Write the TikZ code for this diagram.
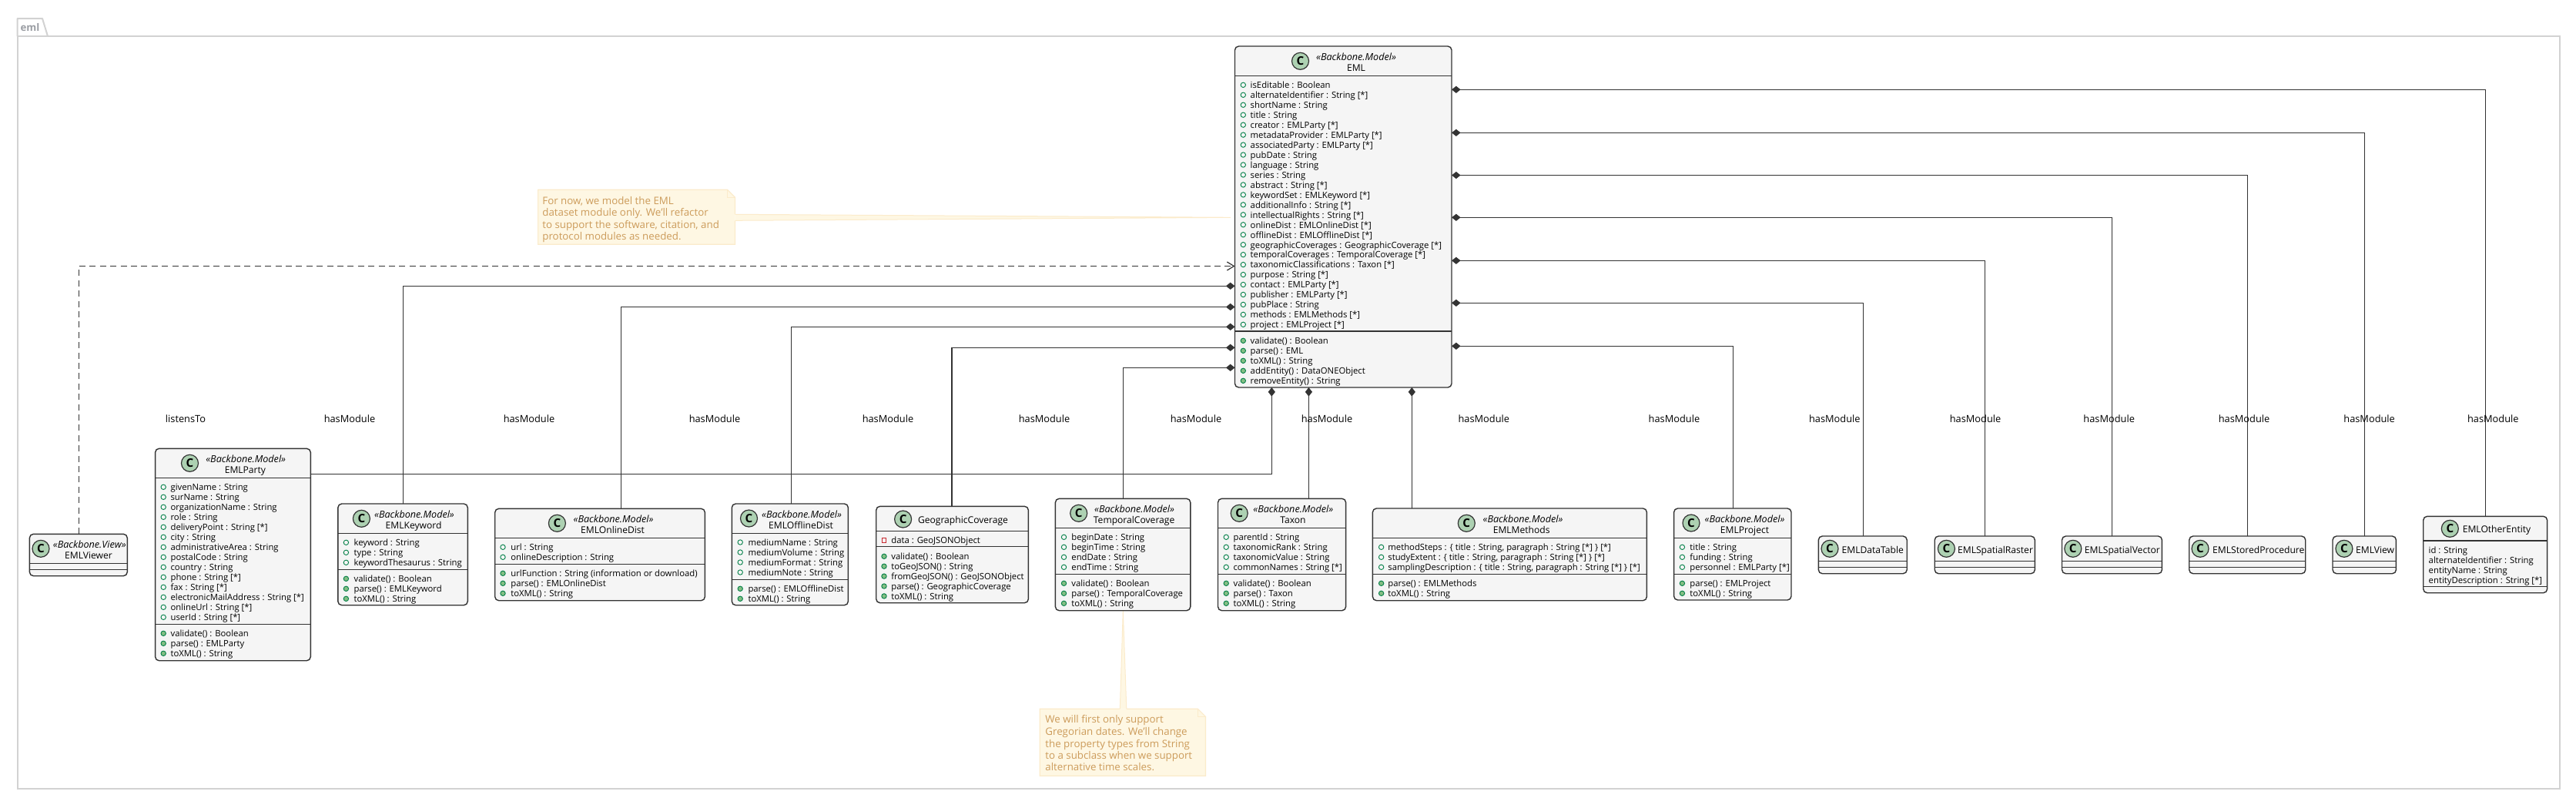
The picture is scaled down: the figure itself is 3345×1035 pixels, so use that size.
\documentclass[tikz,border=0pt]{standalone}
\usepackage{fontspec}
\setmainfont{Open Sans}
\usetikzlibrary{arrows.meta,calc}
\definecolor{boxfill}{HTML}{F5F5F5}
\definecolor{boxline}{HTML}{333333}
\definecolor{iconfill}{HTML}{ADD1B2}
\definecolor{pubgreen}{HTML}{038048}
\definecolor{methgreen}{HTML}{84BE84}
\definecolor{privred}{HTML}{C82930}
\definecolor{notefill}{HTML}{FEF7E3}
\definecolor{noteline}{HTML}{FBEBCB}
\definecolor{notetext}{HTML}{CC9B5A}
\definecolor{pkgline}{HTML}{D2D2D2}
\definecolor{pkgtext}{HTML}{9A9DA3}
\newcommand{\rowfont}{\fontsize{5.65}{6.5}\selectfont}
\newcommand{\namefont}{\fontsize{6.05}{7}\selectfont}
\newcommand{\stereofont}{\fontsize{6.3}{7}\selectfont}
\tikzset{
  x=0.5pt,y=-0.5pt,
  classbox/.style={draw=boxline,fill=boxfill,line width=0.7pt,rounded corners=2.5pt,inner sep=0pt,outer sep=0pt},
  sepline/.style={draw=boxline,line width=0.65pt},
  cicon/.style={circle,draw=boxline,fill=iconfill,line width=0.6pt,minimum size=11pt,inner sep=0pt,font=\bfseries\fontsize{7.6}{8}\selectfont},
  rowtext/.style={anchor=mid west,inner sep=0pt,font=\rowfont},
  stereo/.style={anchor=mid,inner sep=0pt,font=\itshape\stereofont},
  nametext/.style={anchor=mid,inner sep=0pt,font=\namefont},
  linktext/.style={anchor=mid,inner sep=0pt,font=\fontsize{6.4}{7}\selectfont},
  pubdot/.style={circle,draw=pubgreen,line width=0.45pt,minimum size=3.2pt,inner sep=0pt},
  methdot/.style={circle,draw=pubgreen,fill=methgreen,line width=0.45pt,minimum size=3.2pt,inner sep=0pt},
  privsq/.style={rectangle,draw=privred,line width=0.45pt,minimum size=2.9pt,inner sep=0pt},
  composed/.style={draw=boxline,line width=0.65pt,{Diamond[length=5.8pt,width=4.6pt,fill=boxline]}-},
  depend/.style={draw=boxline,line width=0.6pt,dash pattern=on 4pt off 2.7pt,-{Straight Barb[length=4.5pt,width=5.5pt]}},
  notelabel/.style={anchor=mid west,inner sep=0pt,text=notetext,font=\fontsize{6.65}{7.5}\selectfont},
}
% name, x1,y1,x2,y2, circle x, circle y, sep1, sep2
\newcommand{\umlbox}[9]{%
  \pgfmathsetmacro{\bw}{(#4-#2)*0.5}\pgfmathsetmacro{\bh}{(#5-#3)*0.5}%
  \node[classbox,minimum width=\bw pt,minimum height=\bh pt] (#1) at ({(#2+#4)/2},{(#3+#5)/2}) {};
  \draw[sepline] (#2,#8) -- (#4,#8);
  \draw[sepline] (#2,#9) -- (#4,#9);
  \node[cicon] (#1-icon) at (#6,#7) {C};
}
% prefix, style, icon x, text x, y first, dy, items
\newcommand{\umlrows}[7]{%
  \foreach \rowitem [count=\ri from 0] in {#7} {
    \pgfmathsetmacro{\ry}{#5+\ri*#6}
    \node[#2] (#1-i\ri) at (#3,\ry+1) {};
    \node[rowtext] (#1-t\ri) at (#4,\ry) {\rowitem};
  }
}
% prefix, text x, y first, dy, items
\newcommand{\umlplain}[5]{%
  \foreach \rowitem [count=\ri from 0] in {#5} {
    \pgfmathsetmacro{\ry}{#3+\ri*#4}
    \node[rowtext] (#1-t\ri) at (#2,\ry) {\rowitem};
  }
}
\newcommand{\stereoname}[6]{% prefix, stereotype, x, y, name, x
  \node[stereo] (#1-st) at (#3,#4) {«#2»};
  \pgfmathsetmacro{\ny}{#4+14}
  \node[nametext] (#1-nm) at (#6,\ny) {#5};
}
\begin{document}
\begin{tikzpicture}
\useasboundingbox (0,0) rectangle (3345,1035);
% package
\draw[pkgline,line width=1pt,line join=round] (22.5,47) -- (22.5,24) -- (55,24) -- (62,47);
\node[draw=pkgline,line width=1pt,inner sep=0pt,outer sep=0pt,minimum width=1650.9pt,minimum height=488.5pt] (pkg) at ({(22.5+3324.3)/2},{(47+1024)/2}) {};
\node[anchor=mid,inner sep=0pt,text=pkgtext,font=\bfseries\fontsize{6.6}{8}\selectfont] (pkglabel) at (39,35) {eml};

% notes (wedges first)
\coordinate (n1tipa) at (954.5,278.3);
\coordinate (n1tipb) at (954.5,286.3);
\coordinate (n1apex) at (1598,282.3);
\coordinate (n2tipa) at (1454.3,920.3);
\coordinate (n2tipb) at (1462.8,920.3);
\coordinate (n2apex) at (1458.3,793);
\fill[notefill] (n1tipa) -- (n1apex) -- (n1tipb) -- cycle;
\draw[noteline,line width=0.5pt] (n1tipa) -- (n1apex) -- (n1tipb);
\fill[notefill] (n2tipa) -- (n2apex) -- (n2tipb) -- cycle;
\draw[noteline,line width=0.5pt] (n2tipa) -- (n2apex) -- (n2tipb);
\fill[notefill] (698.6,246.3) -- (944.5,246.3) -- (954.5,256.3) -- (954.5,317.3) -- (698.6,317.3) -- cycle;
\draw[noteline,line width=0.6pt] (n1tipa) -- (954.5,256.3) -- (944.5,246.3) -- (698.6,246.3) -- (698.6,317.3) -- (954.5,317.3) -- (n1tipb);
\draw[noteline,line width=0.6pt] (944.5,246.3) -- (944.5,256.3) -- (954.5,256.3);
\fill[notefill] (1350.3,920.3) -- (1555.4,920.3) -- (1565.4,930.3) -- (1565.4,1007.3) -- (1350.3,1007.3) -- cycle;
\draw[noteline,line width=0.6pt] (n2tipa) -- (1350.3,920.3) -- (1350.3,1007.3) -- (1565.4,1007.3) -- (1565.4,930.3) -- (1555.4,920.3) -- (n2tipb);
\draw[noteline,line width=0.6pt] (1555.4,920.3) -- (1555.4,930.3) -- (1565.4,930.3);
\node[notelabel] (n1l1) at (704,259.7) {For now, we model the EML};
\node[notelabel] (n1l2) at (704,274.7) {dataset module only. We'll refactor};
\node[notelabel] (n1l3) at (704,290.7) {to support the software, citation, and};
\node[notelabel] (n1l4) at (704,305.7) {protocol modules as needed.};
\node[notelabel] (n2l1) at (1357,933.3) {We will first only support};
\node[notelabel] (n2l2) at (1357,948.7) {Gregorian dates. We'll change};
\node[notelabel] (n2l3) at (1357,964.7) {the property types from String};
\node[notelabel] (n2l4) at (1357,979.7) {to a subclass when we support};
\node[notelabel] (n2l5) at (1357,994.7) {alternative time scales.};

% boxes
\umlbox{eml}{1603.5}{60}{1885}{503}{1688.5}{79.3}{98.5}{430}
\stereoname{eml}{Backbone.Model}{1761}{72.7}{EML}{1761}
\umlrows{emlp}{pubdot}{1614.3}{1623.3}{109.3}{12.96}{isEditable : Boolean,alternateIdentifier : String [*],shortName : String,title : String,creator : EMLParty [*],metadataProvider : EMLParty [*],associatedParty  : EMLParty [*],pubDate : String,language : String,series : String,abstract : String [*],keywordSet : EMLKeyword [*],additionalInfo : String [*],intellectualRights : String [*],onlineDist : EMLOnlineDist [*],offlineDist : EMLOfflineDist [*],geographicCoverages : GeographicCoverage [*],temporalCoverages : TemporalCoverage [*],taxonomicClassifications : Taxon [*],purpose : String [*],contact : EMLParty [*],publisher : EMLParty [*],pubPlace : String,methods : EMLMethods [*],project : EMLProject [*]}
\umlrows{emlm}{methdot}{1614.3}{1623.3}{441.3}{13}{validate() : Boolean,parse()  : EML,toXML() : String,addEntity() : DataONEObject,removeEntity() : String}

\umlbox{viewer}{38.4}{693.3}{165.3}{747.7}{53}{712.3}{731.7}{739.7}
\stereoname{viewer}{Backbone.View}{116.3}{706}{EMLViewer}{115}

\umlbox{party}{201.6}{582.3}{403.3}{857.7}{246.5}{601.3}{620.3}{810.3}
\stereoname{party}{Backbone.Model}{319.2}{595}{EMLParty}{318.4}
\umlrows{partyp}{pubdot}{212.2}{221.2}{631.3}{13}{givenName : String,surName : String,organizationName : String,role : String,deliveryPoint : String [*],city : String,administrativeArea : String,postalCode : String,country : String,phone : String [*],fax : String [*],electronicMailAddress : String [*],onlineUrl : String [*],userId : String [*]}
\umlrows{partym}{methdot}{212.2}{221.2}{821.3}{13}{validate() : Boolean,parse()  : EMLParty,toXML() : String}

\umlbox{keyword}{438.8}{654}{607.3}{785.7}{469.4}{673.3}{692.3}{739.3}
\stereoname{keyword}{Backbone.Model}{538}{667}{EMLKeyword}{537.1}
\umlrows{keywordp}{pubdot}{449.4}{459.2}{703.3}{13}{keyword : String,type : String,keywordThesaurus : String}
\umlrows{keywordm}{methdot}{449.4}{459.2}{750.3}{13}{validate() : Boolean,parse()  : EMLKeyword,toXML() : String}

\umlbox{online}{642.7}{660.3}{915.4}{779.7}{723.4}{679.3}{698.7}{732.3}
\stereoname{online}{Backbone.Model}{796.5}{672.7}{EMLOnlineDist}{795.6}
\umlrows{onlinep}{pubdot}{653}{663}{709.3}{13}{url : String,onlineDescription : String}
\umlrows{onlinem}{methdot}{653}{663}{743.3}{13}{urlFunction : String (information or download),parse() : EMLOnlineDist,toXML() : String}

\umlbox{offline}{950.3}{654}{1101.4}{785.7}{972.5}{673}{692.3}{752.3}
\stereoname{offline}{Backbone.Model}{1041}{667.3}{EMLOfflineDist}{1040}
\umlrows{offlinep}{pubdot}{961.2}{971.1}{703}{13}{mediumName : String,mediumVolume : String,mediumFormat : String,mediumNote : String}
\umlrows{offlinem}{methdot}{961.2}{971.1}{763.3}{13}{parse() : EMLOfflineDist,toXML() : String}

\umlbox{geo}{1137.7}{657.3}{1335.4}{782.7}{1172.6}{674}{689.3}{709.3}
\node[nametext] (geo-nm) at (1250.5,673.7) {GeographicCoverage};
\umlrows{geop}{privsq}{1148}{1157}{700.3}{13}{data : GeoJSONObject}
\umlrows{geom}{methdot}{1148}{1157}{721.3}{12.9}{validate() : Boolean,toGeoJSON() : String,fromGeoJSON() : GeoJSONObject,parse() : GeographicCoverage,toXML() : String}

\umlbox{temporal}{1370.4}{647.3}{1545.8}{792.7}{1400.7}{666.3}{685.3}{745.3}
\stereoname{temporal}{Backbone.Model}{1473}{660}{TemporalCoverage}{1472.6}
\umlrows{temporalp}{pubdot}{1381.5}{1391}{696.3}{13}{beginDate : String,beginTime : String,endDate : String,endTime : String}
\umlrows{temporalm}{methdot}{1381.5}{1391}{756.3}{13}{validate() : Boolean,parse() : TemporalCoverage,toXML() : String}

\umlbox{taxon}{1581.5}{647.3}{1747.6}{792.7}{1609.2}{666.3}{685.3}{745.3}
\stereoname{taxon}{Backbone.Model}{1679.3}{660}{Taxon}{1679}
\umlrows{taxonp}{pubdot}{1592.2}{1601.2}{696.3}{13}{parentId : String,taxonomicRank : String,taxonomicValue : String,commonNames : String [*]}
\umlrows{taxonm}{methdot}{1592.2}{1601.2}{756.3}{13}{validate() : Boolean,parse() : Taxon,toXML() : String}

\umlbox{methods}{1782.4}{660}{2138.4}{779.7}{1904.3}{679.3}{698.7}{745.3}
\stereoname{methods}{Backbone.Model}{1977.5}{672.7}{EMLMethods}{1975.7}
\umlrows{methodsp}{pubdot}{1793.6}{1802}{709.3}{13}{{methodSteps : \{ title : String, paragraph : String [*] \} [*]},{studyExtent : \{ title : String, paragraph : String [*] \} [*]},{samplingDescription : \{ title : String, paragraph : String [*] \} [*]}}
\umlrows{methodsm}{methdot}{1793.6}{1802}{756.3}{13}{parse() : EMLMethods,toXML() : String}

\umlbox{project}{2173.6}{660}{2326}{779}{2196}{679}{698.7}{745.3}
\stereoname{project}{Backbone.Model}{2265.5}{672.7}{EMLProject}{2265.5}
\umlrows{projectp}{pubdot}{2184.4}{2194}{709.3}{13}{title : String,funding : String,personnel : EMLParty [*]}
\umlrows{projectm}{methdot}{2184.4}{2194}{756.3}{13}{parse() : EMLProject,toXML() : String}

\umlbox{datatable}{2361.3}{696}{2476.2}{744.7}{2376}{712.3}{728.3}{736.3}
\node[nametext,anchor=mid west] (datatable-nm) at (2391.3,712.7) {EMLDataTable};
\umlbox{raster}{2512.2}{696}{2642.3}{744.7}{2527.4}{712.3}{728.3}{736.3}
\node[nametext,anchor=mid west] (raster-nm) at (2541.7,712.7) {EMLSpatialRaster};
\umlbox{vector}{2677.5}{696}{2807.4}{744.7}{2691.8}{712.3}{728.3}{736.3}
\node[nametext,anchor=mid west] (vector-nm) at (2706.5,712.7) {EMLSpatialVector};
\umlbox{stored}{2842.7}{696}{2993.7}{744.7}{2857}{712.3}{728.3}{736.3}
\node[nametext,anchor=mid west] (stored-nm) at (2872.8,712.7) {EMLStoredProcedure};
\umlbox{view}{3029}{696}{3111.4}{744.7}{3043.9}{712.3}{728.3}{736.3}
\node[nametext,anchor=mid west] (view-nm) at (3058.7,712.7) {EMLView};
\umlbox{other}{3146.7}{670.3}{3307.6}{769.7}{3181.3}{686.3}{702}{761.3}
\node[nametext] (other-nm) at (3242,686.3) {EMLOtherEntity};
\umlplain{otherp}{3153.3}{713.3}{13}{id : String,alternateIdentifier : String,entityName : String,entityDescription : String [*]}

% connectors
\draw[depend] (viewer.north -| 102.3,0) |- (eml.west |- 0,345.5);
\draw[composed] (eml.south -| 1651.3,0) |- (party.east |- 0,615.3);
\draw[composed] (eml.west |- 0,371.3) -| (keyword.north -| 523.3,0);
\draw[composed] (eml.west |- 0,398.5) -| (online.north -| 806.4,0);
\draw[composed] (eml.west |- 0,424.3) -| (offline.north -| 1027.3,0);
\draw[composed] (eml.west |- 0,451.3) -| (geo.north -| 1236,0);
\draw[composed] (eml.west |- 0,477.3) -| (temporal.north -| 1458.4,0);
\draw[composed] (eml.south -| 1699.4,0) -- (taxon.north -| 1699.4,0);
\draw[composed] (eml.south -| 1833.3,0) -- (methods.north -| 1833.3,0);
\draw[composed] (eml.east |- 0,449.3) -| (project.north -| 2250.8,0);
\draw[composed] (eml.east |- 0,393.3) -| (datatable.north -| 2419.4,0);
\draw[composed] (eml.east |- 0,338.3) -| (raster.north -| 2577.5,0);
\draw[composed] (eml.east |- 0,282.3) -| (vector.north -| 2742.4,0);
\draw[composed] (eml.east |- 0,227.5) -| (stored.north -| 2918.4,0);
\draw[composed] (eml.east |- 0,172.3) -| (view.north -| 3070.2,0);
\draw[composed] (eml.east |- 0,116.3) -| (other.north -| 3227.8,0);

% connector labels
\node[linktext] (lbl0) at (241,543.5) {listensTo};
\foreach \lx [count=\li] in {454,687,928,1153,1356,1553,1723,1926.8,2173.9,2382.3,2565,2738.7,2914,3076.6,3237.3}
  \node[linktext] (lbl\li) at (\lx,543.5) {hasModule};
\end{tikzpicture}
\end{document}
